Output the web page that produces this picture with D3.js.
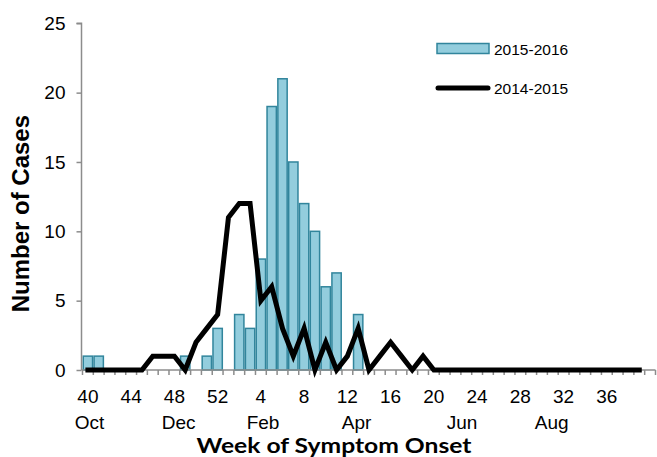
<!DOCTYPE html>
<html>
<head>
<meta charset="utf-8">
<script src="https://cdn.jsdelivr.net/npm/d3@7"></script>
<style>
  html, body { margin: 0; padding: 0; background: #fff; }
  svg { display: block; }
</style>
</head>
<body>
<svg id="chart" width="657" height="457"></svg>
<script>
// ---------- data ----------
const weeks = [40,41,42,43,44,45,46,47,48,49,50,51,52,
  1,2,3,4,5,6,7,8,9,10,11,12,13,14,15,16,17,18,19,20,
  21,22,23,24,25,26,27,28,29,30,31,32,33,34,35,36,37,38,39];

const cases2015_2016 = [1,1,0,0,0,0,0,0,0,1,0,1,3,
  0,4,3,8,19,21,15,12,10,6,7,0,4,0,0,0,0,0,0,0,
  0,0,0,0,0,0,0,0,0,0,0,0,0,0,0,0,0,0,0];

const cases2014_2015 = [0,0,0,0,0,0,1,1,1,0,2,3,4,
  11,12,12,5,6,3,1,3,0,2,0,1,3,0,1,2,1,0,1,0,
  0,0,0,0,0,0,0,0,0,0,0,0,0,0,0,0,0,0,0];

const weekTickLabels = ["40","44","48","52","4","8","12","16","20","24","28","32","36"];
const monthLabels = ["Oct","Dec","Feb","Apr","Jun","Aug"];
const monthSlot = [0.15, 8.4, 16.2, 24.85, 34.6, 42.9];   // slot (week index) under which each month sits
const yTicks = [0,5,10,15,20,25];
const seriesNames = ["2015-2016","2014-2015"];

// ---------- layout ----------
const svg = d3.select("#chart");
const nSlots = weeks.length + 1;             // axis shows one trailing empty slot
const x = d3.scaleLinear().domain([0, nSlots]).range([82.5, 655.5]);
const y = d3.scaleLinear().domain([0, 25]).range([370, 23.3]);
const slotW = x(1) - x(0);
const cx = i => x(i + 0.5);

const axisColor = "#8c8c8c";
const barFill = "#93cddd";
const barStroke = "#31859c";
const numFont = "'Liberation Sans', Arial, sans-serif";

// bars
svg.append("g").selectAll("rect")
  .data(cases2015_2016.map((v, i) => ({v, i})).filter(d => d.v > 0))
  .join("rect")
  .attr("x", d => x(d.i) + 0.75)
  .attr("width", slotW - 1.5)
  .attr("y", d => y(d.v))
  .attr("height", d => y(0) - y(d.v))
  .attr("fill", barFill)
  .attr("stroke", barStroke)
  .attr("stroke-width", 1.5);

// y axis
const yAxis = d3.axisLeft(y).tickValues(yTicks).tickSize(5).tickPadding(11).tickFormat(d3.format("d"));
const gy = svg.append("g").attr("transform", "translate(81.5,0)").call(yAxis);
gy.select(".domain").attr("stroke", axisColor).attr("stroke-width", 1.5).attr("d", `M-5,${y(25)}H0V${y(0)}`);
gy.selectAll(".tick line").attr("stroke", axisColor).attr("stroke-width", 1.5);
gy.selectAll(".tick text").attr("font-family", numFont).attr("font-size", 19).attr("fill", "#000");

// x axis (ticks at slot boundaries)
const gx = svg.append("g").attr("transform", `translate(0,${y(0)})`);
gx.append("line").attr("x1", 81.5).attr("x2", x(nSlots)).attr("y1", 0).attr("y2", 0)
  .attr("stroke", axisColor).attr("stroke-width", 1.5);
gx.selectAll("line.tk").data(d3.range(nSlots + 1)).join("line")
  .attr("class", "tk")
  .attr("x1", d => x(d)).attr("x2", d => x(d))
  .attr("y1", 0).attr("y2", 5)
  .attr("stroke", axisColor).attr("stroke-width", 1.5);

// week tick labels
const labelled = weeks.map((w, i) => ({w: String(w), i})).filter(d => weekTickLabels.includes(d.w));
svg.append("g").selectAll("text").data(labelled).join("text")
  .attr("x", d => cx(d.i)).attr("y", 402.5)
  .attr("text-anchor", "middle")
  .attr("font-family", numFont).attr("font-size", 19).attr("fill", "#000")
  .text(d => d.w);

// month labels
svg.append("g").selectAll("text").data(monthLabels).join("text")
  .attr("x", (d, i) => cx(monthSlot[i])).attr("y", 428.5)
  .attr("text-anchor", "middle")
  .attr("font-family", numFont).attr("font-size", 19).attr("fill", "#000")
  .text(d => d);

// line
const line = d3.line().x((d, i) => cx(i)).y(d => y(d));
svg.append("path")
  .datum(cases2014_2015)
  .attr("d", line)
  .attr("fill", "none")
  .attr("stroke", "#000")
  .attr("stroke-width", 5)
  .attr("stroke-linejoin", "miter")
  .attr("stroke-linecap", "square");

// axis titles
svg.append("text")
  .attr("transform", `translate(29,${(y(0) + y(25)) / 2 + 17}) rotate(-90)`)
  .attr("text-anchor", "middle")
  .attr("font-family", numFont).attr("font-weight", "bold").attr("font-size", 24)
  .attr("fill", "#000")
  .text("Number of Cases");

svg.append("text")
  .attr("x", 334).attr("y", 452.5)
  .attr("text-anchor", "middle")
  .attr("font-family", "Lato, 'Open Sans', sans-serif").attr("font-weight", "bold").attr("font-size", 20)
  .attr("textLength", 275).attr("lengthAdjust", "spacingAndGlyphs")
  .attr("fill", "#000")
  .text("Week of Symptom Onset");

// legend
const lg = svg.append("g");
lg.append("rect").attr("x", 437).attr("y", 43.5).attr("width", 52).attr("height", 10)
  .attr("fill", barFill).attr("stroke", barStroke).attr("stroke-width", 1.5);
lg.append("text").attr("x", 494).attr("y", 54.5)
  .attr("font-family", numFont).attr("font-size", 15.5).attr("fill", "#000").text(seriesNames[0]);
lg.append("line").attr("x1", 438).attr("x2", 488).attr("y1", 88).attr("y2", 88)
  .attr("stroke", "#000").attr("stroke-width", 5).attr("stroke-linecap", "round");
lg.append("text").attr("x", 494).attr("y", 93.5)
  .attr("font-family", numFont).attr("font-size", 15.5).attr("fill", "#000").text(seriesNames[1]);
</script>
</body>
</html>
